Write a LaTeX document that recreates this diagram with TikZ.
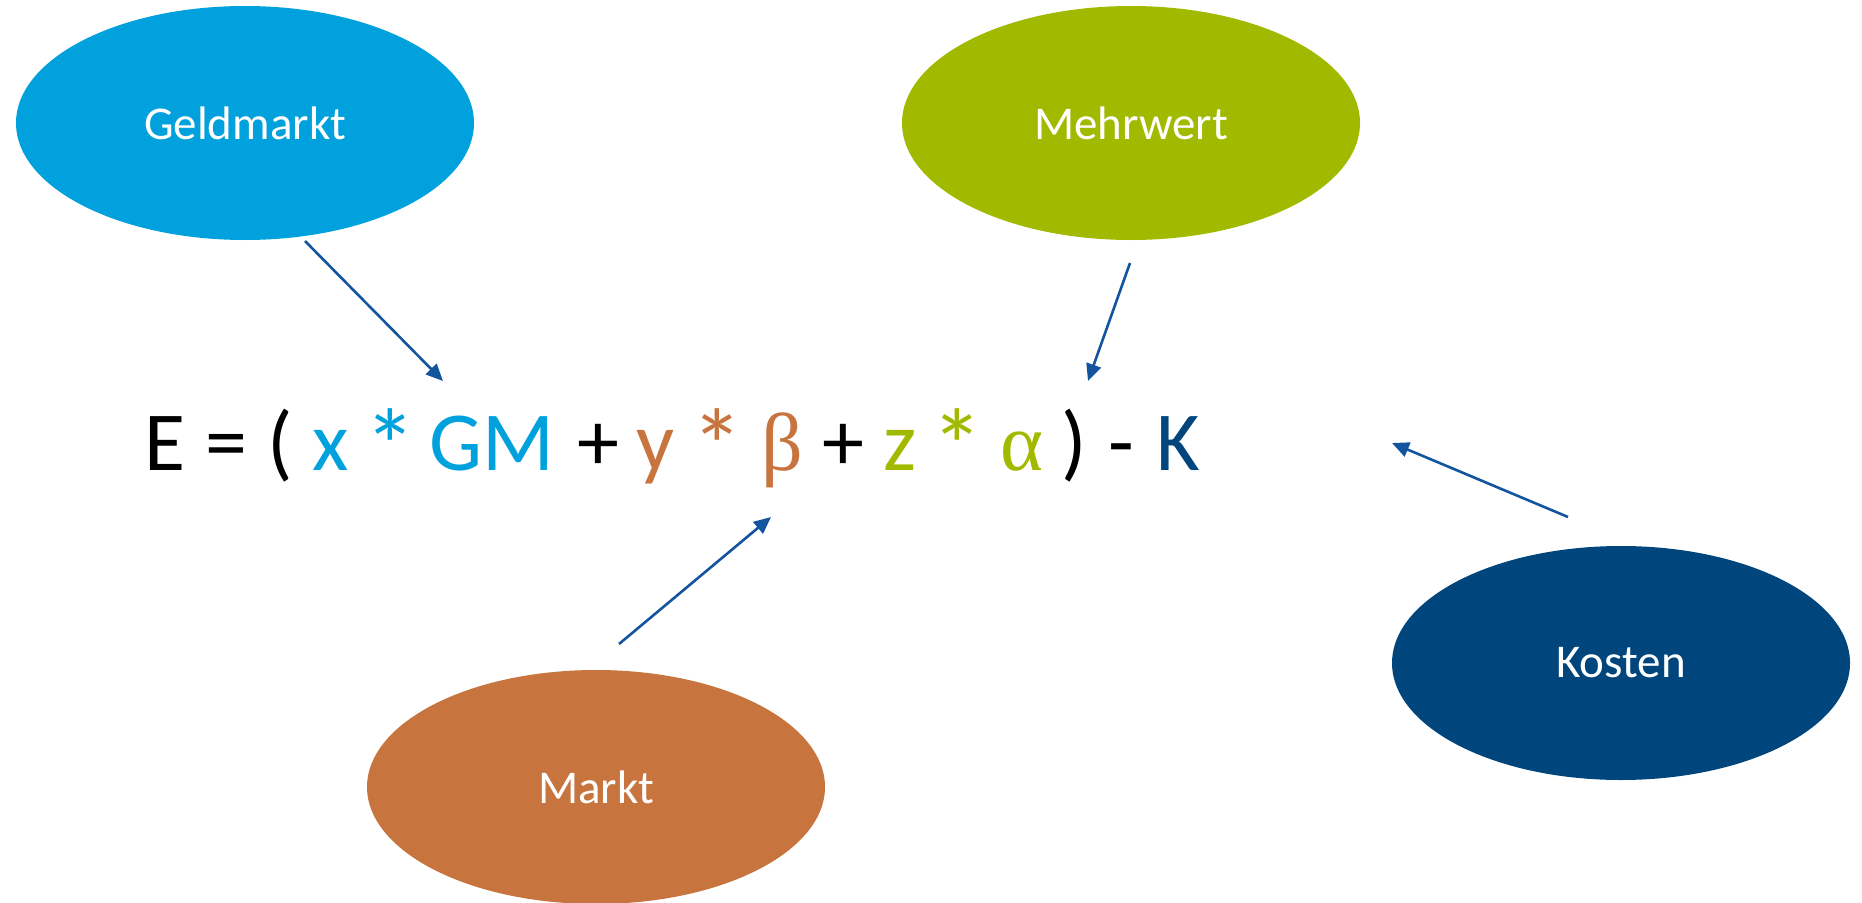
\documentclass[tikz,border=0pt]{standalone}
\usepackage{fontspec}
\setmainfont{Carlito}
\newfontfamily\grk{Liberation Serif}
\usetikzlibrary{shapes.geometric,arrows.meta}
\definecolor{cLight}{RGB}{0,161,220}
\definecolor{cGreen}{RGB}{161,186,0}
\definecolor{cOrange}{RGB}{200,116,62}
\definecolor{cDark}{RGB}{0,70,125}
\definecolor{cArrow}{RGB}{18,84,158}
\tikzset{
  blob/.style={ellipse, draw=none, minimum width=458pt, minimum height=234pt, inner sep=0pt,
    text=white, font=\fontsize{47}{50}\selectfont},
  conn/.style={draw=cArrow, line width=2.6pt, -{Triangle[length=17pt,width=15pt]}},
  tok/.style={anchor=base, inner sep=0pt, font=\fontsize{84}{90}\selectfont},
  star/.style={anchor=base, inner sep=0pt, font=\fontsize{104}{110}\selectfont},
  gtok/.style={anchor=base, inner sep=0pt, font=\fontsize{82}{90}\grk}
}
\begin{document}
\begin{tikzpicture}[x=1pt,y=-1pt]
\useasboundingbox (0,0) rectangle (1862,902);
\node[blob, fill=cLight]  (geld)  at (245,123) {Geldmarkt};
\node[blob, fill=cGreen]  (mehr)  at (1131,123) {Mehrwert};
\node[blob, fill=cOrange] (markt) at (596,787) {Markt};
\node[blob, fill=cDark]   (kost)  at (1621,663) {Kosten};
% equation E = ( x * GM + y * beta + z * alpha ) - K
\node[tok] (e1) at (165,470) {E};
\node[tok] (e2) at (226,470) {=};
\node[tok] (e3) at (280,470) {(};
\node[tok, text=cLight] (e4) at (331,470) {x};
\node[star, text=cLight] (e5) at (390,482) {*};
\node[tok, text=cLight] (e6) at (492,470) {GM};
\node[tok] (e7) at (598,470) {+};
\node[tok, text=cOrange] (e8) at (656,470) {y};
\node[star, text=cOrange] (e9) at (717,482) {*};
\node[gtok, text=cOrange] (e10) at (782,470) {β};
\node[tok] (e11) at (843,470) {+};
\node[tok, text=cGreen] (e12) at (900,470) {z};
\node[star, text=cGreen] (e13) at (957,482) {*};
\node[gtok, text=cGreen] (e14) at (1022,470) {α};
\node[tok] (e15) at (1074,470) {)};
\node[tok] (e16) at (1121,470) {-};
\node[tok, text=cDark] (e17) at (1178,470) {K};
% connectors
\coordinate (g1) at (305,241); \coordinate (g2) at (443,381);
\coordinate (m1) at (1130,263); \coordinate (m2) at (1088,381);
\coordinate (k1) at (619,644); \coordinate (k2) at (771,517);
\coordinate (c1) at (1568,517); \coordinate (c2) at (1392,443);
\draw[conn] (g1) -- (g2);
\draw[conn] (m1) -- (m2);
\draw[conn] (k1) -- (k2);
\draw[conn] (c1) -- (c2);
\end{tikzpicture}
\end{document}
